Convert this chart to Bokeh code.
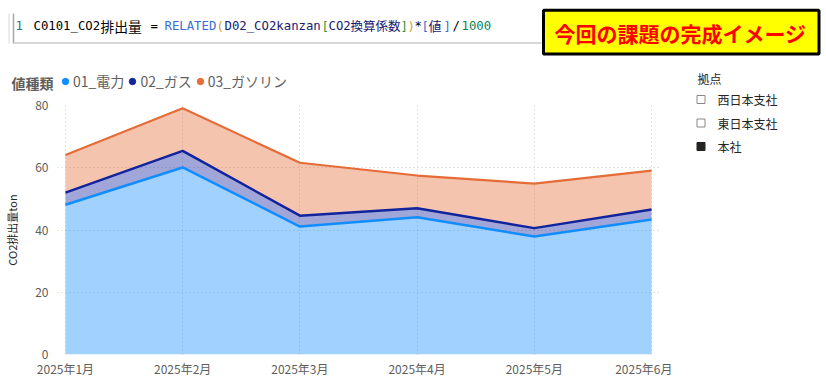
from bokeh.plotting import figure
from bokeh.layouts import column, row
from bokeh.models import (ColumnDataSource, Range1d, FixedTicker, Legend, LegendItem)
from bokeh.core.properties import value
from bokeh.embed import file_html
from bokeh.resources import INLINE

# ---------------- data ----------------
months = ["2025年1月", "2025年2月", "2025年3月", "2025年4月", "2025年5月", "2025年6月"]
denryoku = [48.1, 60.1, 41.1, 44.1, 37.9, 43.4]      # 01_電力
gas = [3.9, 5.3, 3.5, 2.9, 2.7, 3.2]                 # 02_ガス
gasoline = [12.1, 13.7, 17.0, 10.5, 14.3, 12.5]      # 03_ガソリン
series_names = ["01_電力", "02_ガス", "03_ガソリン"]
series_colors = ["#118DFF", "#12239E", "#E66C37"]
y_ticks = [0, 20, 40, 60, 80]
legend_title = "値種類"
y_label = "CO2排出量ton"
branch_title = "拠点"
branches = ["西日本支社", "東日本支社", "本社"]
branch_selected = [False, False, True]
banner = "今回の課題の完成イメージ"

JP = "Noto Sans CJK JP"
MONO = "DejaVu Sans Mono"
GREY = "#605E5C"
DARK = "#252423"

W, H = 826, 384
TOP_H = 92
CHART_W = 672


def blank_fig(w, h, x0, y0):
    f = figure(width=w, height=h, output_backend="svg", toolbar_location=None,
               x_range=Range1d(x0, x0 + w), y_range=Range1d(y0 + h, y0),
               min_border=0, outline_line_color=None, background_fill_color="white",
               border_fill_color="white")
    f.axis.visible = False
    f.grid.visible = False
    f.frame_align = False
    return f


# ---------------- header: formula bar, banner, legend, slicer title ----------------
top = blank_fig(W, TOP_H, 0, 0)
top.segment(x0=[8.5, 13, 13], y0=[13, 13, 42.5], x1=[8.5, 13, 541], y1=[43, 43, 42.5],
            line_color=["#D8D8D8", "#A8A8A8", "#C8C8C8"], line_width=[1, 1.5, 1.5])

# formula text, split into coloured tokens (latin in monospace, CJK separately)
NAVY_T = "#1A1A70"
tokens = ["1", "C0101_CO2", "=", "RELATED", "(", "D02_CO2kanzan", "[", "CO2",
          "]", ")", "*", "[", "]", "/", "1000"]
token_x = [15, 33, 150, 164, 216, 224, 321, 328, 400, 407, 414, 421, 443, 452, 461]
token_c = ["#237893", "#000000", "#000000", "#3A6FD1", "#C9A227", NAVY_T, "#319331", NAVY_T,
           "#319331", "#C9A227", "#000000", "#3A6FD1", "#3A6FD1", "#000000", "#098658"]
top.text(x=token_x, y=[25] * len(tokens), text=tokens, text_color=token_c,
         text_font=value(MONO), text_font_size="12.3px", text_baseline="middle")
cjk_tokens = ["排出量", "換算係数", "値"]
cjk_x = [100, 350, 428]
cjk_c = ["#000000", NAVY_T, NAVY_T]
cjk_size = ["13.8px", "12.5px", "13px"]
top.text(x=cjk_x, y=[25] * len(cjk_tokens), text=cjk_tokens, text_color=cjk_c,
         text_font=value(JP), text_font_size=cjk_size, text_baseline="middle")

top.quad(left=[543], right=[818.5], top=[9.8], bottom=[53.5], fill_color="#FFFF00",
         line_color="#000000", line_width=3)
top.text(x=[680], y=[32], text=[banner], text_color="#FF0000", text_font=value(JP),
         text_font_size="21px", text_font_style="bold", text_align="center",
         text_baseline="middle")

top.text(x=[11], y=[82], text=[legend_title], text_color=GREY, text_font=value(JP),
         text_font_size="14px", text_font_style="bold", text_baseline="middle")
# legend swatches: one point each, placed outside the visible range
leg_r = [top.scatter([-100], [-100], marker="circle", color=c) for c in series_colors]
legend = Legend(items=[LegendItem(label=n, renderers=[r]) for n, r in zip(series_names, leg_r)],
                orientation="horizontal", location=(57, 1),
                border_line_color=None, background_fill_alpha=0, padding=0, margin=0,
                spacing=0, glyph_width=16, glyph_height=18, label_standoff=0,
                label_height=18, label_text_font=JP, label_text_font_size="14px",
                label_text_color=GREY)
top.add_layout(legend)

top.text(x=[697], y=[78], text=[branch_title], text_color=DARK, text_font=value(JP),
         text_font_size="12px", text_baseline="middle")

# ---------------- chart ----------------
p = figure(width=CHART_W, height=H - TOP_H, output_backend="svg", toolbar_location=None,
           x_range=Range1d(-0.068, len(months) - 1 + 0.068), y_range=Range1d(0, 80),
           min_border_left=57, min_border_right=CHART_W - 659, min_border_top=105 - TOP_H,
           min_border_bottom=H - 354, outline_line_color=None,
           background_fill_color="white", border_fill_color="white")
p.frame_align = False

src = ColumnDataSource(dict(x=list(range(len(months))), d=denryoku, g=gas, o=gasoline))
stackers = ["d", "g", "o"]
p.varea_stack(stackers, x="x", color=series_colors, fill_alpha=0.4, source=src)
p.vline_stack(stackers, x="x", color=series_colors, line_width=[2.5, 2.5, 2.2], source=src)

p.xaxis.ticker = FixedTicker(ticks=list(range(len(months))))
p.xaxis.major_label_overrides = {i: m for i, m in enumerate(months)}
p.yaxis.ticker = FixedTicker(ticks=y_ticks)
for ax in (p.xaxis[0], p.yaxis[0]):
    ax.axis_line_color = None
    ax.major_tick_line_color = None
    ax.minor_tick_line_color = None
    ax.major_tick_out = 0
    ax.major_tick_in = 0
    ax.minor_tick_out = 0
    ax.major_label_text_font = JP
    ax.major_label_text_font_size = "12px"
    ax.major_label_text_color = GREY
p.xaxis.major_label_standoff = 5
p.yaxis.major_label_standoff = 9
p.yaxis.axis_label = y_label
p.yaxis.axis_label_text_font = JP
p.yaxis.axis_label_text_font_size = "11px"
p.yaxis.axis_label_text_font_style = "normal"
p.yaxis.axis_label_text_color = DARK
p.yaxis.axis_label_standoff = 12

p.xgrid.ticker = FixedTicker(ticks=list(range(len(months))))
p.ygrid.ticker = FixedTicker(ticks=y_ticks)
p.grid.grid_line_color = "#C8C6C4"
p.grid.grid_line_dash = "1 3"
p.grid.grid_line_width = 1

# ---------------- slicer ----------------
sl = blank_fig(W - CHART_W, H - TOP_H, CHART_W, TOP_H)
item_y = [99 + 23.5 * i for i in range(len(branches))]
sl.rect(x=[700.5] * len(branches), y=item_y, width=8, height=8,
        fill_color=[DARK if s else "#FFFFFF" for s in branch_selected],
        line_color=[DARK if s else "#8A8886" for s in branch_selected], line_width=1)
sl.text(x=[717] * len(branches), y=item_y, text=branches, text_color=DARK,
        text_font=value(JP), text_font_size="12px", text_baseline="middle")

layout = column(top, row(p, sl))
open("out.html", "w").write(file_html(layout, INLINE))
